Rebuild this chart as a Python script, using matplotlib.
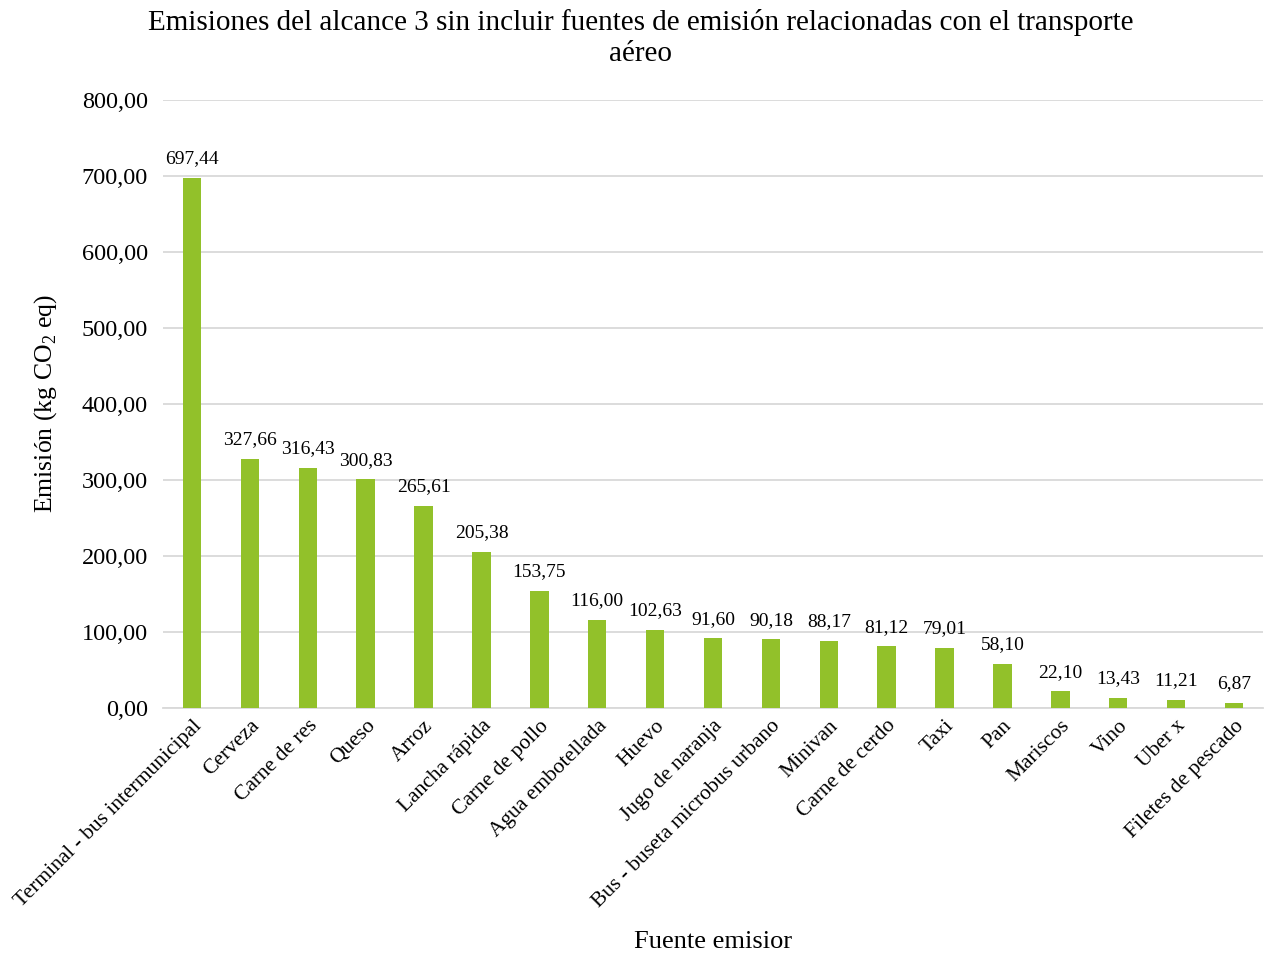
import matplotlib
import matplotlib.pyplot as plt

matplotlib.use("Agg")

plt.rcParams["font.family"] = ["Liberation Serif", "DejaVu Serif"]
plt.rcParams["mathtext.fontset"] = "custom"
plt.rcParams["mathtext.rm"] = "Liberation Serif"

fuentes = [
    "Terminal - bus intermunicipal", "Cerveza", "Carne de res", "Queso", "Arroz",
    "Lancha rápida", "Carne de pollo", "Agua embotellada", "Huevo",
    "Jugo de naranja", "Bus - buseta microbus urbano", "Minivan",
    "Carne de cerdo", "Taxi", "Pan", "Mariscos", "Vino", "Uber x",
    "Filetes de pescado",
]
emisiones = [
    697.44, 327.66, 316.43, 300.83, 265.61, 205.38, 153.75, 116.00, 102.63,
    91.60, 90.18, 88.17, 81.12, 79.01, 58.10, 22.10, 13.43, 11.21, 6.87,
]
yticks = [0, 100, 200, 300, 400, 500, 600, 700, 800]


def coma(v):
    return f"{v:.2f}".replace(".", ",")


fig = plt.figure(figsize=(12.68, 9.55), dpi=100)
ax = fig.add_axes([0.1286, 0.2586, 0.8674, 0.6367])

x = range(len(fuentes))
bars = ax.bar(x, emisiones, width=0.32, color="#92c12a", zorder=3)
for b, v in zip(bars, emisiones):
    ax.text(b.get_x() + b.get_width() / 2, v + 14, coma(v),
            ha="center", va="bottom", fontsize=14)

ax.set_xlim(-0.5, len(fuentes) - 0.5)
ax.set_ylim(0, 800)
ax.set_yticks(yticks)
ax.set_yticklabels([coma(t) for t in yticks], fontsize=17.5)
ax.yaxis.grid(True, color="#d9d9d9", linewidth=1.3, zorder=0)
ax.tick_params(axis="both", length=0)
ax.tick_params(axis="y", pad=11)
ax.tick_params(axis="x", pad=6)

ax.set_xticks(list(x))
ax.set_xticklabels(fuentes, rotation=45, ha="right", rotation_mode="anchor",
                   fontsize=15.5)

for s in ["top", "right", "left"]:
    ax.spines[s].set_visible(False)
ax.spines["bottom"].set_color("#d9d9d9")
ax.spines["bottom"].set_linewidth(1.3)

ax.set_ylabel(r"Emisión (kg CO$_\mathrm{2}$ eq)", fontsize=18.5, labelpad=16)
fig.text(0.5625, 0.002, "Fuente emisior", ha="center", va="bottom", fontsize=19)
fig.text(0.505, 0.991,
         "Emisiones del alcance 3 sin incluir fuentes de emisión relacionadas con el transporte\naéreo",
         ha="center", va="top", fontsize=21, linespacing=1.28)

fig.savefig("out.png", dpi=100, facecolor="white")
